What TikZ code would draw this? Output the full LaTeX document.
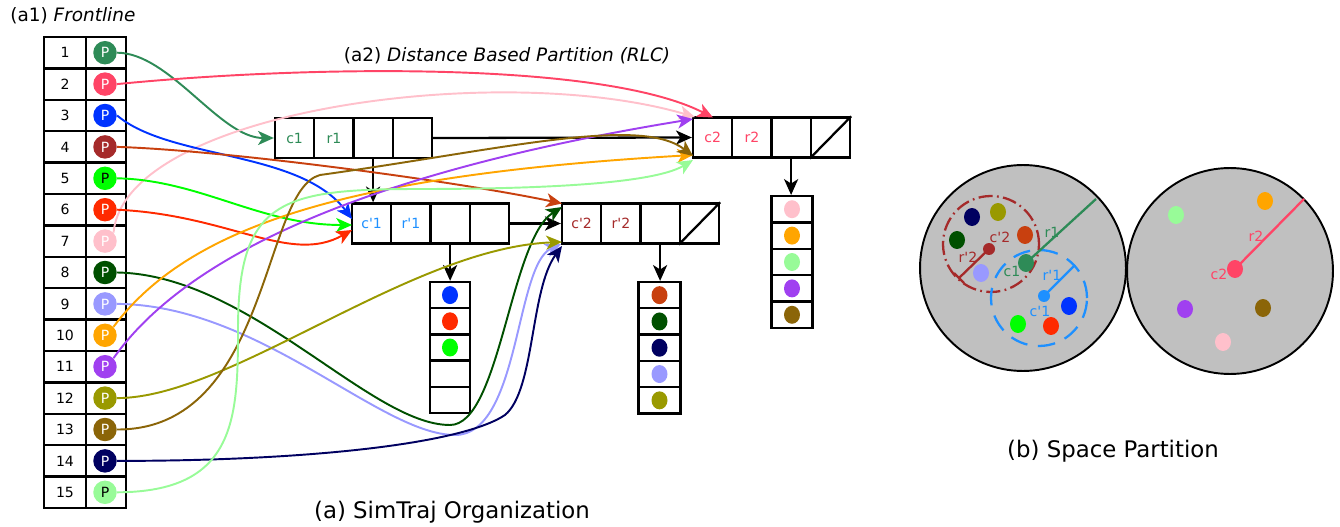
\documentclass[tikz,border=0pt]{standalone}
\usepackage{fontspec}
\setmainfont{DejaVu Sans}
\usetikzlibrary{arrows.meta,shapes.geometric}
\definecolor{pA}{HTML}{2E8B57}
\definecolor{pB}{HTML}{FF4466}
\definecolor{pC}{HTML}{0033FF}
\definecolor{pD}{HTML}{A52A2A}
\definecolor{pDl}{HTML}{C8400F}
\definecolor{pE}{HTML}{00FF00}
\definecolor{pF}{HTML}{FF2A00}
\definecolor{pG}{HTML}{FFC0CB}
\definecolor{pH}{HTML}{005000}
\definecolor{pI}{HTML}{9999FF}
\definecolor{pJ}{HTML}{FFA500}
\definecolor{pK}{HTML}{A040F0}
\definecolor{pL}{HTML}{999900}
\definecolor{pM}{HTML}{8B6508}
\definecolor{pN}{HTML}{000060}
\definecolor{pO}{HTML}{98FB98}
\definecolor{dodg}{HTML}{1E90FF}
\definecolor{spgray}{HTML}{C0C0C0}
\newcommand{\qs}{\textquotesingle}
\begin{document}
\begin{tikzpicture}[x=0.02cm,y=-0.02cm,
  cell/.style={draw,line width=1.3pt,minimum width=0.785cm,minimum height=0.8cm,inner sep=0pt,font=\fontsize{8}{9}\selectfont},
  lcell/.style={draw,line width=1.3pt,minimum width=0.8cm,minimum height=0.524cm,inner sep=0pt},
  numcell/.style={draw,line width=1.3pt,minimum width=0.84cm,minimum height=0.628cm,inner sep=0pt,font=\fontsize{8}{9}\selectfont},
  pcell/.style={draw,line width=1.3pt,minimum width=0.8cm,minimum height=0.628cm,inner sep=0pt},
  pnode/.style={circle,minimum size=0.47cm,inner sep=0pt,font=\fontsize{8}{9}\selectfont},
  ldot/.style={ellipse,minimum width=0.32cm,minimum height=0.36cm,inner sep=0pt},
  conn/.style={line width=1.1pt,-{Stealth[length=9pt,width=8pt,inset=2.5pt]}},
  barr/.style={line width=1.3pt,-{Stealth[length=9pt,width=8pt,inset=2.5pt]}},
  captxt/.style={font=\fontsize{13}{15}\selectfont},
  ttl/.style={font=\fontsize{10.5}{12}\selectfont},
  slab/.style={font=\fontsize{8}{9}\selectfont,inner sep=0pt}
]
\useasboundingbox (0,0) rectangle (1340,527);

% titles
\node[ttl,anchor=west,inner sep=0pt] (t1) at (10,16) {(a1) \textit{Frontline}};
\node[ttl] (t2) at (507,56) {(a2) \textit{Distance Based Partition (RLC)}};
\node[captxt] (t3) at (452,512) {(a) SimTraj Organization};
\node[captxt] (t4) at (1113,451) {(b) Space Partition};

% frontline table
\foreach \i/\c/\t in {1/pA/white,2/pB/white,3/pC/white,4/pD/white,5/pE/black,6/pF/white,7/pG/white,8/pH/white,9/pI/white,10/pJ/white,11/pK/white,12/pL/white,13/pM/white,14/pN/white,15/pO/black}{
  \pgfmathsetmacro\yy{37+31.4*(\i-0.5)}
  \node[numcell] (n\i) at (65,\yy) {\i};
  \node[pcell] (pc\i) at (106,\yy) {};
  \node[pnode,fill=\c,text=\t] (p\i) at (105,\yy) {P};
}

% c1 box
\node[cell,text=pA] (c1a) at (294.6,138) {c1};
\node[cell,text=pA] (c1b) at (333.9,138) {r1};
\node[cell] (c1c) at (373.1,138) {};
\node[cell] (c1d) at (412.4,138) {};
% c'1 box
\node[cell,text=dodg] (d1a) at (371.6,223.5) {c\qs1};
\node[cell,text=dodg] (d1b) at (410.9,223.5) {r\qs1};
\node[cell] (d1c) at (450.1,223.5) {};
\node[cell] (d1d) at (489.4,223.5) {};
% c'2 box
\node[cell,text=pD] (d2a) at (581.6,223.5) {c\qs2};
\node[cell,text=pD] (d2b) at (620.9,223.5) {r\qs2};
\node[cell] (d2c) at (660.1,223.5) {};
\node[cell] (d2d) at (699.4,223.5) {};
\draw[line width=1.3pt] (d2d.south west) -- (d2d.north east);
% c2 box
\node[cell,text=pB] (c2a) at (712.6,137.5) {c2};
\node[cell,text=pB] (c2b) at (751.9,137.5) {r2};
\node[cell] (c2c) at (791.1,137.5) {};
\node[cell] (c2d) at (830.4,137.5) {};
\draw[line width=1.3pt] (c2d.south west) -- (c2d.north east);

% lists
\foreach \j in {1,2,3,4,5}{
  \pgfmathsetmacro\yy{282+26.2*(\j-0.5)}
  \node[lcell] (la\j) at (450,\yy) {};
}
\foreach \j/\c in {1/pC,2/pF,3/pE}{
  \node[ldot,fill=\c] (lad\j) at (la\j) {};
}
\foreach \j/\c in {1/pDl,2/pH,3/pN,4/pI,5/pL}{
  \pgfmathsetmacro\yy{282+26.3*(\j-0.5)}
  \node[lcell,minimum width=0.84cm] (lb\j) at (659.5,\yy) {};
  \node[ldot,fill=\c] (lbd\j) at (lb\j) {};
}
\foreach \j/\c in {1/pG,2/pJ,3/pO,4/pK,5/pM}{
  \pgfmathsetmacro\yy{196+26.4*(\j-0.5)}
  \node[lcell,minimum width=0.82cm] (lc\j) at (792,\yy) {};
  \node[ldot,fill=\c] (lcd\j) at (lc\j) {};
}

% arrival points
\coordinate (c2pB) at (713,117.5);
\coordinate (c2pG) at (695,117);
\coordinate (c2pK) at (693,119);
\coordinate (c2pJ) at (693,155);
\coordinate (c2pM) at (693,156);
\coordinate (c2pO) at (693,160);
\coordinate (d1pC) at (352,219);
\coordinate (d1pE) at (352,225);
\coordinate (d1pF) at (352,230);
\coordinate (d2pD) at (562,203.5);
\coordinate (d2pH) at (562,207);
\coordinate (d2pL) at (562,242);
\coordinate (d2pI) at (561,244);
\coordinate (d2pN) at (562,246);

% black structure arrows
\draw[barr] (c1d.east) -- (c2a.west);
\draw[barr] (c1c.south) -- (c1c.south |- d1a.north);
\draw[barr] (d1d.east) -- (d2a.west);
\draw[barr] (d1c.south) -- (d1c.south |- la1.north);
\draw[barr] (d2c.south) -- (d2c.south |- lb1.north);
\draw[barr] (c2c.south) -- (c2c.south |- lc1.north);

% colored connectors
\draw[conn,pA] (p1.east) .. controls (170,53) and (220,138) .. (c1a.west);
\draw[conn,pB] (p2.east) .. controls (300,66) and (600,60) .. (c2pB);
\draw[conn,pG] (p7.north east) .. controls (125,110) and (500,60) .. (c2pG);
\draw[conn,pC] (p3.east) .. controls (170,160) and (300,150) .. (d1pC);
\draw[conn,pDl] (p4.east) .. controls (220,150) and (450,180) .. (d2pD);
\draw[conn,pE] (p5.east) .. controls (200,180) and (260,225) .. (d1pE);
\draw[conn,pF] (p6.east) .. controls (230,215) and (290,265) .. (d1pF);
\draw[conn,pH] (p8.east) .. controls (250,275) and (370,425) .. (450,425) .. controls (500,425) and (510,240) .. (d2pH);
\draw[conn,pI] (p9.east) .. controls (260,305) and (380,435) .. (455,435) .. controls (520,435) and (515,265) .. (d2pI);
\draw[conn,pJ] (p10.north east) .. controls (190,225) and (350,175) .. (c2pJ);
\draw[conn,pK] (p11.north east) .. controls (190,250) and (380,170) .. (c2pK);
\draw[conn,pL] (p12.east) .. controls (230,398) and (410,248) .. (d2pL);
\draw[conn,pM] (p13.east) .. controls (270,430) and (262,190) .. (320,175) .. controls (500,150) and (640,115) .. (c2pM);
\draw[conn,pN] (p14.east) .. controls (300,461) and (460,445) .. (505,415) .. controls (535,390) and (530,290) .. (d2pN);
\draw[conn,pO] (p15.east) .. controls (235,492) and (238,420) .. (238,330) .. controls (238,200) and (280,189) .. (420,189) .. controls (580,189) and (660,180) .. (c2pO);

% space partition
\draw[line width=1.1pt,fill=spgray] (1023,268) circle[radius=2.06cm];
\draw[line width=1.1pt,fill=spgray] (1230,271) circle[radius=2.06cm];
% left circle content
\draw[pD,line width=1.3pt,dash pattern=on 8pt off 2.5pt on 1pt off 2.5pt] (991,244) circle[radius=0.96cm];
\draw[dodg,line width=1.3pt,dash pattern=on 10pt off 6pt] (1039,298) circle[radius=0.96cm];
\foreach \x/\y/\c in {972/217/pN,998/212/pL,957/240/pH,1025/235/pDl,981/273/pI,1026/263/pA,1069/306/pC,1018/324/pE,1051/326/pF}{
  \fill[\c] (\x,\y) ellipse[x radius=0.16cm,y radius=0.18cm];
}
\draw[pA,line width=1.3pt] (1026,263) -- (1096,199);
\draw[dodg,line width=1.3pt] (1044,296) -- (1075,265);
\draw[pD,line width=1.3pt] (989,249) -- (959,278);
\draw[pD,line width=1.3pt] (954,273) -- (964,283);
\fill[pD] (989,249) circle[radius=0.12cm];
\fill[dodg] (1044,296) circle[radius=0.12cm];
\node[slab,text=pA] (lr1) at (1052,232) {r1};
\node[slab,text=pA] (lc1l) at (1012,271) {c1};
\node[slab,text=dodg] (lrp1) at (1052,275) {r\qs1};
\node[slab,text=dodg] (lcp1) at (1040,311) {c\qs1};
\node[slab,text=pD] (lcp2) at (1000,237) {c\qs2};
\node[slab,text=pD] (lrp2) at (968,257) {r\qs2};
% right circle content
\foreach \x/\y/\c in {1176/215/pO,1265/201/pJ,1185/309/pK,1263/308/pM,1223/342/pG}{
  \fill[\c] (\x,\y) ellipse[x radius=0.16cm,y radius=0.18cm];
}
\draw[pB,line width=1.3pt] (1235,269) -- (1304,199);
\fill[pB] (1235,269) ellipse[x radius=0.16cm,y radius=0.18cm];
\node[slab,text=pB] (lr2) at (1256,236) {r2};
\node[slab,text=pB] (lc2) at (1219,274) {c2};
\end{tikzpicture}
\end{document}
